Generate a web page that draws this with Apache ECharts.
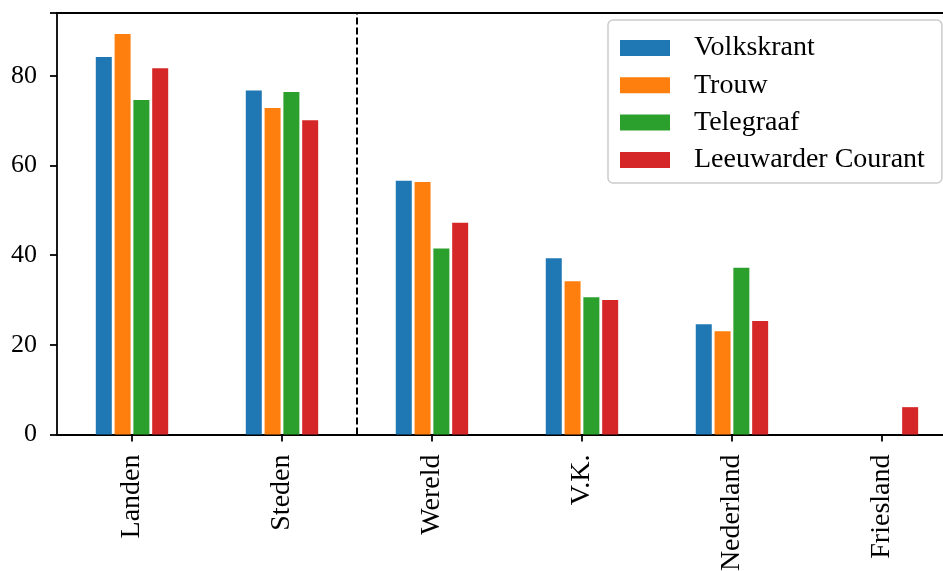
<!DOCTYPE html>
<html>
<head>
<meta charset="utf-8">
<script src="https://cdn.jsdelivr.net/npm/echarts@6/dist/echarts.min.js"></script>
<style>
  html, body { margin: 0; padding: 0; background: #fff; }
  #chart { width: 943px; height: 571px; }
</style>
</head>
<body>
<div id="chart"></div>
<script>
// Categories and newspaper percentages
const categories = ['Landen', 'Steden', 'Wereld', 'V.K.', 'Nederland', 'Friesland'];
const seriesNames = ['Volkskrant', 'Trouw', 'Telegraaf', 'Leeuwarder Courant'];
const volkskrant = [84.2, 76.7, 56.6, 39.3, 24.6, 0];
const trouw = [89.3, 72.8, 56.3, 34.2, 23.0, 0];
const telegraaf = [74.6, 76.4, 41.5, 30.6, 37.2, 0];
const leeuwarder = [81.7, 70.1, 47.2, 30.0, 25.3, 6.1];
const yTicks = [0, 20, 40, 60, 80];
const dividerPosition = 1.5; // between Steden and Wereld

const colors = ['#1f77b4', '#ff7f0e', '#2ca02c', '#d62728'];
const valuesList = [volkskrant, trouw, telegraaf, leeuwarder];
const font = 'Liberation Serif';
const spine = { color: '#000', width: 1.8 };

// x positions of the categories on a numeric axis; the visible range
// ends a little before the last category band closes
const xPositions = categories.map((_, i) => i);
const xMin = -0.5;
const xMax = 5.407;

const chart = echarts.init(document.getElementById('chart'));

const barSeries = seriesNames.map((name, i) => ({
  name: name,
  type: 'bar',
  xAxisIndex: 0,
  yAxisIndex: 0,
  data: valuesList[i].map((v, k) => [xPositions[k], v]),
  barWidth: 16,
  barGap: '17.5%',
  itemStyle: { color: colors[i] },
  emphasis: { disabled: true }
}));

chart.setOption({
  animation: false,
  textStyle: { fontFamily: font },
  grid: { left: 57, top: 13, right: 0, height: 421.5, containLabel: false, outerBoundsMode: 'none' },
  legend: {
    orient: 'vertical',
    left: 608,
    top: 20,
    data: seriesNames,
    icon: 'rect',
    itemWidth: 50,
    itemHeight: 16,
    itemGap: 9.3,
    padding: [14, 17, 9, 12],
    backgroundColor: 'rgba(255,255,255,0.8)',
    borderColor: '#cccccc',
    borderWidth: 1.5,
    borderRadius: 5,
    textStyle: {
      fontFamily: font,
      fontSize: 28,
      color: '#000',
      lineHeight: 28,
      padding: [0, 0, 0, 19]
    }
  },
  xAxis: [
    {
      type: 'value',
      position: 'bottom',
      min: xMin,
      max: xMax,
      axisLine: { show: true, onZero: false, lineStyle: spine },
      axisTick: { show: true, customValues: xPositions, length: 7, lineStyle: spine },
      axisLabel: {
        customValues: xPositions,
        rotate: 90,
        margin: 20,
        fontFamily: font,
        fontSize: 28,
        color: '#000',
        formatter: v => categories[Math.round(v)] || ''
      },
      splitLine: { show: false }
    },
    {
      type: 'value',
      position: 'top',
      min: xMin,
      max: xMax,
      axisLine: { show: true, onZero: false, lineStyle: spine },
      axisTick: { show: false },
      axisLabel: { show: false },
      splitLine: { show: false }
    }
  ],
  yAxis: {
    type: 'value',
    min: 0,
    max: 94.0,
    interval: 20,
    axisLine: { show: true, onZero: false, lineStyle: spine },
    axisTick: { show: true, length: 7, lineStyle: spine },
    axisLabel: {
      margin: 20,
      fontFamily: font,
      fontSize: 26,
      color: '#000',
      formatter: v => (yTicks.indexOf(v) >= 0 ? String(v) : '')
    },
    splitLine: { show: false }
  },
  series: barSeries.concat([{
    name: 'divider',
    type: 'line',
    xAxisIndex: 0,
    yAxisIndex: 0,
    data: [[dividerPosition, 0], [dividerPosition, 94.0]],
    symbol: 'none',
    silent: true,
    lineStyle: { color: '#000', width: 2, type: [7, 3] },
    z: 5
  }])
});
</script>
</body>
</html>
